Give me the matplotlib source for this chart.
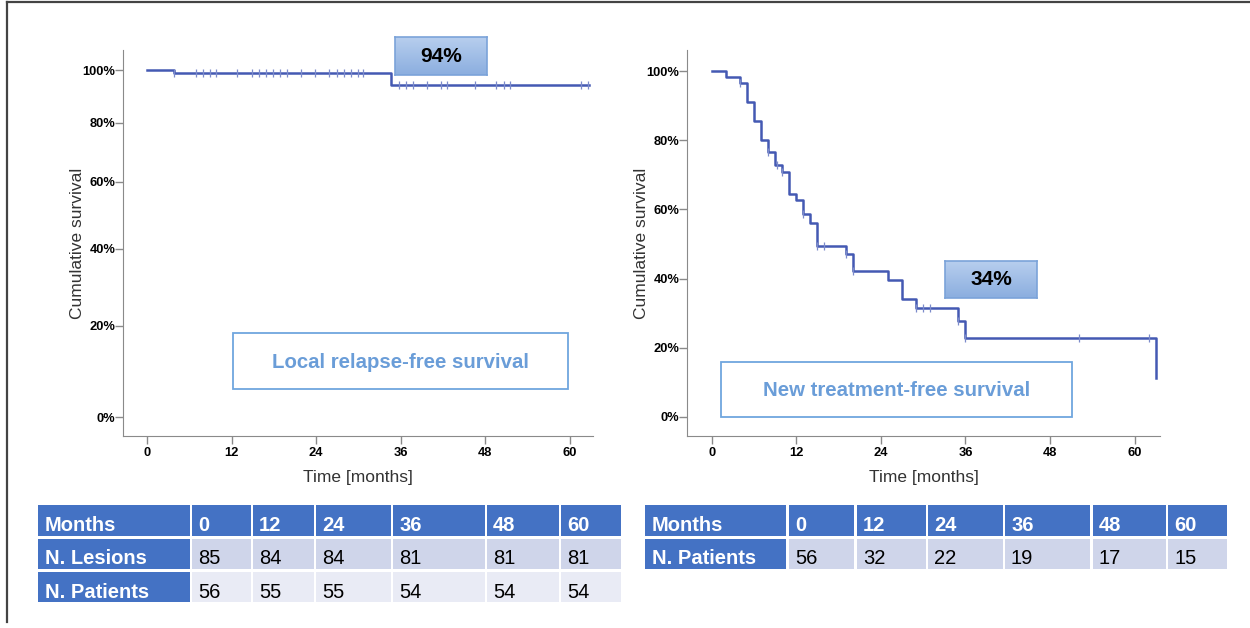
import numpy as np
import matplotlib
matplotlib.use("Agg")
import matplotlib.pyplot as plt
from matplotlib.patches import Rectangle
from matplotlib.colors import LinearSegmentedColormap
from matplotlib.ticker import FuncFormatter

plt.rcParams['font.family'] = ['Liberation Sans', 'DejaVu Sans']

# ---- data ----
# local relapse-free survival (step times in months, survival fraction after each step)
lrfs_t = [0, 3.9, 34.7, 62.7]
lrfs_s = [1.0, 0.988, 0.94, 0.94]
lrfs_cens = [3.9, 6.95, 7.96, 8.97, 9.8, 12.8, 14.9, 15.9, 16.9, 17.9, 18.9, 19.9,
             21.9, 23.8, 25.8, 26.9, 28.0, 28.9, 29.9, 30.7,
             35.8, 36.8, 37.7, 39.7, 41.7, 42.6, 46.6, 49.6, 50.6, 51.5, 61.6, 62.6]

# new treatment-free survival
ntfs_t = [0, 2.0, 4.0, 5.0, 6.0, 7.0, 8.0, 9.0, 10.0, 11.0, 12.0, 13.0, 14.0, 15.0,
          19.0, 20.0, 25.0, 27.0, 29.0, 35.0, 36.0, 63.1]
ntfs_s = [1.0, 0.983, 0.965, 0.910, 0.855, 0.802, 0.766, 0.729, 0.708, 0.646, 0.626,
          0.586, 0.562, 0.494, 0.472, 0.421, 0.395, 0.341, 0.316, 0.278, 0.229, 0.114]
ntfs_cens = [4.0, 8.0, 9.2, 10.0, 13.0, 15.0, 15.9, 19.0, 20.0, 29.0, 30.0, 31.0,
             35.0, 36.0, 52.1, 62.1]

months = ["0", "12", "24", "36", "48", "60"]
left_rows = ["N. Lesions", "N. Patients"]
left_vals = [["85", "84", "84", "81", "81", "81"],
             ["56", "55", "55", "54", "54", "54"]]
right_rows = ["N. Patients"]
right_vals = [["56", "32", "22", "19", "17", "15"]]

# ---- layout (pixel based) ----
W, H = 1250, 628
LINE = "#4459B3"
HEAD = "#4472C4"
ROWC = ["#CFD5EA", "#E9EBF5"]
LABC = "#6A9DD8"


def frect(x0, y0, x1, y1):
    return [x0 / W, 1 - y1 / H, (x1 - x0) / W, (y1 - y0) / H]


def step_at(t, s, c):
    i = np.searchsorted(t, c, side="right") - 1
    return np.asarray(s)[i]


fig = plt.figure(figsize=(W / 100, H / 100), dpi=100)

# overlay for frame, tables, label boxes
ov = fig.add_axes([0, 0, 1, 1])
ov.set_xlim(0, W); ov.set_ylim(H, 0); ov.axis("off")
ov.plot([7, W], [2, 2], color="#444444", lw=1.6)
ov.plot([7, 7], [2, 622], color="#444444", lw=1.6)


def km_axes(rect, t, s, cens, xlim, ylim, log_y):
    ax = fig.add_axes(rect)
    ax.patch.set_visible(False)
    if log_y:
        ax.set_yscale("function", functions=(np.log1p, np.expm1))
    ax.step(t, s, where="post", color=LINE, lw=1.8, zorder=3)
    ax.plot(cens, step_at(t, s, cens), ls="none", marker="|", ms=5.5, mew=0.9,
            color="#7C8BCB", zorder=4)
    ax.set_xlim(*xlim); ax.set_ylim(*ylim)
    ax.set_xticks([0, 12, 24, 36, 48, 60])
    ax.set_yticks([0, 0.2, 0.4, 0.6, 0.8, 1.0])
    ax.yaxis.set_major_formatter(FuncFormatter(lambda v, _: f"{v * 100:.0f}%"))
    for side in ["top", "right"]:
        ax.spines[side].set_visible(False)
    for side in ["left", "bottom"]:
        ax.spines[side].set_color("#8a8a8a")
    ax.tick_params(axis="y", length=5.5, width=1, color="#8a8a8a", pad=0, labelsize=9.3)
    ax.tick_params(axis="x", length=5.5, width=1, color="#8a8a8a", pad=2.5, labelsize=9.3)
    for lb in ax.get_xticklabels() + ax.get_yticklabels():
        lb.set_fontweight("bold")
    ax.set_xlabel("Time [months]", fontsize=12.5, color="#333333", labelpad=8)
    ax.set_ylabel("Cumulative survival", fontsize=12.5, color="#333333", labelpad=-1.5)
    return ax


km_axes(frect(123, 50, 593, 436), lrfs_t, lrfs_s, lrfs_cens,
        (-3.4, 63.3), (-0.0372, 1.0816), True)
km_axes(frect(687, 50, 1160, 436), ntfs_t, ntfs_s, ntfs_cens,
        (-3.5, 63.6), (-0.055, 1.061), False)


def label_box(x0, y0, x1, y1, text):
    ov.add_patch(Rectangle((x0, y0), x1 - x0, y1 - y0, fill=False,
                           ec="#6FA6DE", lw=1.3))
    ov.text((x0 + x1) / 2, (y0 + y1) / 2 + 1, text, ha="center", va="center",
            fontsize=14.7, fontweight="bold", color=LABC)


label_box(233, 333, 568, 389, "Local relapse-free survival")
label_box(721, 362, 1072, 417, "New treatment-free survival")

cmap = LinearSegmentedColormap.from_list("g", ["#B7CEEE", "#8BAEDF"])


def pct_box(x0, y0, x1, y1, text):
    bx = fig.add_axes(frect(x0, y0, x1, y1))
    bx.imshow(np.linspace(0, 1, 64)[:, None], cmap=cmap, aspect="auto",
              extent=(0, 1, 0, 1))
    bx.set_xticks([]); bx.set_yticks([])
    for sp in bx.spines.values():
        sp.set_color("#7BA3D9"); sp.set_linewidth(1.2)
    bx.text(0.5, 0.5, text, transform=bx.transAxes, ha="center", va="center",
            fontsize=15, fontweight="bold", color="black")


pct_box(395, 37, 487, 75, "94%")
pct_box(945, 261, 1037, 298, "34%")


def table(col_edges, row_edges, row_names, vals):
    rows = [("Months", months, None)] + [
        (name, v, ROWC[i % 2]) for i, (name, v) in enumerate(zip(row_names, vals))]
    for r, (name, cells, bg) in enumerate(rows):
        y0, y1 = row_edges[r]
        yc = (y0 + y1) / 2 + 5
        x0, x1 = col_edges[0]
        ov.add_patch(Rectangle((x0, y0), x1 - x0, y1 - y0, color=HEAD, lw=0))
        ov.text(x0 + 7, yc, name, ha="left", va="center", fontsize=14.5,
                fontweight="bold", color="white")
        for c, txt in enumerate(cells):
            x0, x1 = col_edges[c + 1]
            ov.add_patch(Rectangle((x0, y0), x1 - x0, y1 - y0,
                                   color=HEAD if bg is None else bg, lw=0))
            ov.text(x0 + 6, yc, txt, ha="left", va="center", fontsize=14.5,
                    fontweight="bold" if bg is None else "normal",
                    color="white" if bg is None else "black")


table([(38, 190), (192, 251), (253, 314), (316, 391), (393, 485), (487, 559), (561, 621)],
      [(505, 536), (539, 569), (572, 602)], left_rows, left_vals)
table([(645, 786), (789, 854), (857, 926), (928, 1003), (1005, 1090), (1093, 1166), (1168, 1227)],
      [(505, 536), (539, 569)], right_rows, right_vals)

fig.savefig("out.png", dpi=100)
